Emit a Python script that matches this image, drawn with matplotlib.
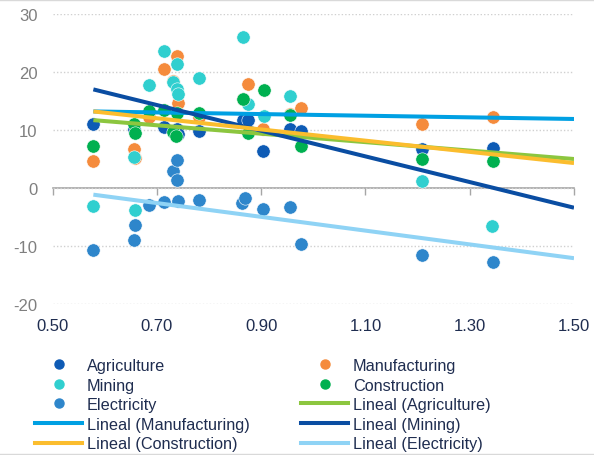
import numpy as np
import matplotlib
matplotlib.use("Agg")
import matplotlib.pyplot as plt
from matplotlib.lines import Line2D

plt.rcParams["font.family"] = ["Liberation Sans", "DejaVu Sans"]

# ---- data -------------------------------------------------------------
agri_x = [0.578, 0.656, 0.713, 0.738, 0.740, 0.780, 0.866, 0.875, 0.904, 0.955, 0.976, 1.208, 1.344]
agri_y = [11.0, 10.2, 10.6, 10.2, 9.3, 9.9, 11.7, 11.7, 6.4, 10.2, 9.8, 6.7, 6.9]

manu_x = [0.578, 0.655, 0.658, 0.685, 0.713, 0.731, 0.739, 0.740, 0.780, 0.866, 0.875, 0.904, 0.955, 0.976, 1.208, 1.344]
manu_y = [4.6, 6.7, 5.2, 12.3, 20.6, 18.5, 22.7, 14.6, 12.2, 15.3, 17.9, 10.2, 12.7, 13.8, 11.0, 12.2]

mining_x = [0.578, 0.656, 0.658, 0.685, 0.714, 0.731, 0.738, 0.739, 0.741, 0.780, 0.866, 0.875, 0.905, 0.956, 1.208, 1.343]
mining_y = [-3.1, 5.3, -3.8, 17.7, 23.6, 18.3, 21.3, 17.0, 16.2, 19.0, 26.1, 14.5, 12.5, 15.9, 1.2, -6.5]

constr_x = [0.578, 0.656, 0.658, 0.685, 0.713, 0.731, 0.736, 0.739, 0.780, 0.866, 0.875, 0.905, 0.955, 0.976, 1.208, 1.344]
constr_y = [7.3, 11.0, 9.5, 13.3, 13.4, 9.6, 8.9, 13.0, 12.9, 15.3, 9.4, 16.9, 12.6, 7.2, 5.0, 4.6]

elec_x = [0.578, 0.655, 0.658, 0.685, 0.713, 0.731, 0.738, 0.739, 0.740, 0.781, 0.864, 0.869, 0.904, 0.956, 0.976, 1.208, 1.344]
elec_y = [-10.7, -9.0, -6.4, -2.9, -2.4, 2.9, 4.9, 1.4, -2.3, -2.1, -2.5, -1.8, -3.6, -3.2, -9.6, -11.6, -12.7]

# linear trend lines: value at the first x and at the forecast end
trend_x = [0.578, 1.50]
trend_agri = [11.7, 5.0]
trend_manu = [13.2, 11.9]
trend_mining = [17.0, -3.4]
trend_constr = [13.2, 4.3]
trend_elec = [-1.15, -12.1]

x_ticks = [0.50, 0.70, 0.90, 1.10, 1.30, 1.50]
y_ticks = [-20, -10, 0, 10, 20, 30]

# ---- styling ----------------------------------------------------------
NAVY = "#1F2D50"
series = [
    ("Agriculture", agri_x, agri_y, "#0E5BB5"),
    ("Manufacturing", manu_x, manu_y, "#F58B3C"),
    ("Mining", mining_x, mining_y, "#30CFCF"),
    ("Construction", constr_x, constr_y, "#00B050"),
    ("Electricity", elec_x, elec_y, "#2E86CB"),
]
trends = [
    ("Lineal (Agriculture)", trend_agri, "#8CC63F"),
    ("Lineal (Manufacturing)", trend_manu, "#00A0E3"),
    ("Lineal (Mining)", trend_mining, "#0A4DA2"),
    ("Lineal (Construction)", trend_constr, "#FBBD2E"),
    ("Lineal (Electricity)", trend_elec, "#8FD3F5"),
]

fig = plt.figure(figsize=(5.94, 4.56), dpi=100)
W, H = 594, 456
ax = fig.add_axes([52.7 / W, 1 - 305 / H, (574 - 52.7) / W, (305 - 15) / H])

handles = {}
for i, (name, xs, ys, col) in enumerate(series):
    ax.scatter(xs, ys, s=92, color=col, edgecolors="white", linewidths=0.4, zorder=3 + i * 0.1)
    handles[name] = Line2D([], [], linestyle="none", marker="o", markersize=6.5,
                           markerfacecolor=col, markeredgecolor=col, label=name)

for name, vals, col in trends:
    ax.plot(trend_x, vals, color=col, lw=2.9, solid_capstyle="butt", zorder=4)
    handles[name] = Line2D([], [], color=col, lw=2.9, label=name)

ax.set_xlim(0.5, 1.5)
ax.set_ylim(-20, 30)

# y axis: dotted gridlines, grey labels, no spine
ax.set_yticks(y_ticks)
ax.set_yticklabels([str(v) for v in y_ticks])
ax.tick_params(axis="y", length=0, pad=11, labelsize=12, labelcolor="#7F7F7F")
ax.yaxis.grid(True, linestyle=(0, (1, 1.5)), color="#D0D0D0", lw=1)
ax.set_axisbelow(True)

# x labels at the bottom of the plot area
ax.set_xticks(x_ticks)
ax.set_xticklabels([f"{v:.2f}" for v in x_ticks])
ax.tick_params(axis="x", length=0, pad=10, labelsize=12, labelcolor=NAVY)
for s in ax.spines.values():
    s.set_visible(False)

# horizontal axis line crossing at y = 0 with outward ticks
zero_frac = (0 - (-20)) / (30 - (-20))
sec = ax.secondary_xaxis(zero_frac)
sec.set_xticks(x_ticks)
sec.tick_params(axis="x", direction="out", length=5, width=1, color="#A6A6A6", labelbottom=False)
sec.spines["bottom"].set_color("#A6A6A6")
sec.spines["bottom"].set_linewidth(1.2)

# legend (row-wise order laid out in two columns)
order = ["Agriculture", "Mining", "Electricity", "Lineal (Manufacturing)", "Lineal (Construction)",
         "Manufacturing", "Construction", "Lineal (Agriculture)", "Lineal (Mining)", "Lineal (Electricity)"]
fig.legend([handles[k] for k in order], order, ncol=2, loc="upper left",
           bbox_to_anchor=(35 / W, 1 - 359 / H), frameon=False, fontsize=11.7,
           labelcolor=NAVY, borderpad=0, borderaxespad=0, handlelength=2.9,
           handletextpad=0.27, columnspacing=3.2, labelspacing=0.28)

# chart-area border lines
fig.add_artist(Line2D([0, 1], [1 - 1 / H, 1 - 1 / H], color="#D9D9D9", lw=1))
fig.add_artist(Line2D([0, 1], [0.6 / H, 0.6 / H], color="#D9D9D9", lw=1))

fig.savefig("out.png", dpi=100)
